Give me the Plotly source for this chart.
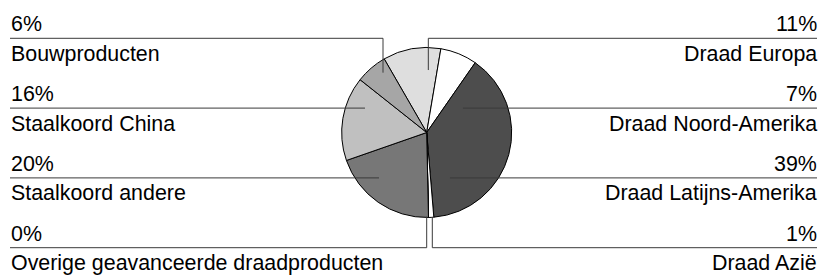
import plotly.graph_objects as go

# ---- data ----
categories = ["Draad Europa", "Draad Noord-Amerika", "Draad Latijns-Amerika", "Draad Azië",
              "Overige geavanceerde draadproducten", "Staalkoord andere", "Staalkoord China",
              "Bouwproducten"]
values = [11, 7, 39, 1, 0, 20, 16, 6]
pct_labels = ["11%", "7%", "39%", "1%", "0%", "20%", "16%", "6%"]
colors = ["#DEDEDE", "#FFFFFF", "#4D4D4D", "#FFFFFF", "#9A9A9A", "#777777", "#C0C0C0", "#A6A6A6"]

# label layout: side and row of each category
sides = ["right", "right", "right", "right", "left", "left", "left", "left"]
rows = [0, 1, 2, 3, 3, 2, 1, 0]
# leader end points in pie-radius units relative to pie centre (None = stays on row line)
leader_x = [0.019, 0.427, 0.274, 0.066, 0.0, -0.561, -0.726, -0.514]
leader_y = [-0.735, None, None, 0.995, 0.99, None, None, -0.704]

# ---- layout constants (pixels) ----
W, H = 821, 275
CX, CY, R = 426.7, 132.5, 85.0
ROW0, ROW_STEP = 38.3, 69.8
LEFT_X, RIGHT_X = 10, 817
FONT = "Liberation Sans, Arial, sans-serif"
FS = 21.4
LINE_COLOR = "#3A3A3A"


def px(x):
    return x / W


def py(y):
    return 1 - y / H


fig = go.Figure()
fig.add_trace(go.Pie(
    labels=categories,
    values=values,
    sort=False,
    direction="clockwise",
    rotation=-30,
    textinfo="none",
    hoverinfo="skip",
    showlegend=False,
    marker=dict(colors=colors, line=dict(color="#000000", width=1)),
    domain=dict(x=[px(CX - R), px(CX + R)], y=[py(CY + R), py(CY - R)]),
))

shapes = []
annotations = []
for cat, pct, side, row, lx, ly in zip(categories, pct_labels, sides, rows, leader_x, leader_y):
    ry = ROW0 + row * ROW_STEP
    ex = CX + lx * R
    edge = LEFT_X if side == "left" else RIGHT_X
    shapes.append(dict(type="line", xref="paper", yref="paper",
                       x0=px(edge), x1=px(ex), y0=py(ry), y1=py(ry),
                       line=dict(color=LINE_COLOR, width=1)))
    if ly is not None:
        ey = CY + ly * R
        shapes.append(dict(type="line", xref="paper", yref="paper",
                           x0=px(ex), x1=px(ex), y0=py(ry), y1=py(ey),
                           line=dict(color=LINE_COLOR, width=1)))
    if side == "left":
        ax, anchor = px(LEFT_X - 1), "left"
    else:
        ax, anchor = px(RIGHT_X + 2), "right"
    annotations.append(dict(xref="paper", yref="paper", x=ax, y=py(ry - 14.0),
                            text=pct, showarrow=False, xanchor=anchor, yanchor="middle",
                            font=dict(family=FONT, size=FS, color="#000000")))
    annotations.append(dict(xref="paper", yref="paper", x=ax, y=py(ry + 15.4),
                            text=cat, showarrow=False, xanchor=anchor, yanchor="middle",
                            font=dict(family=FONT, size=FS, color="#000000")))

fig.update_layout(
    width=W, height=H,
    margin=dict(l=0, r=0, t=0, b=0),
    paper_bgcolor="#FFFFFF",
    plot_bgcolor="#FFFFFF",
    shapes=shapes,
    annotations=annotations,
    font=dict(family=FONT, size=FS),
)

fig.write_html("out.html",
               config={"displayModeBar": False, "staticPlot": True},
               post_script="document.body.style.margin='0';document.body.style.overflow='hidden';")
